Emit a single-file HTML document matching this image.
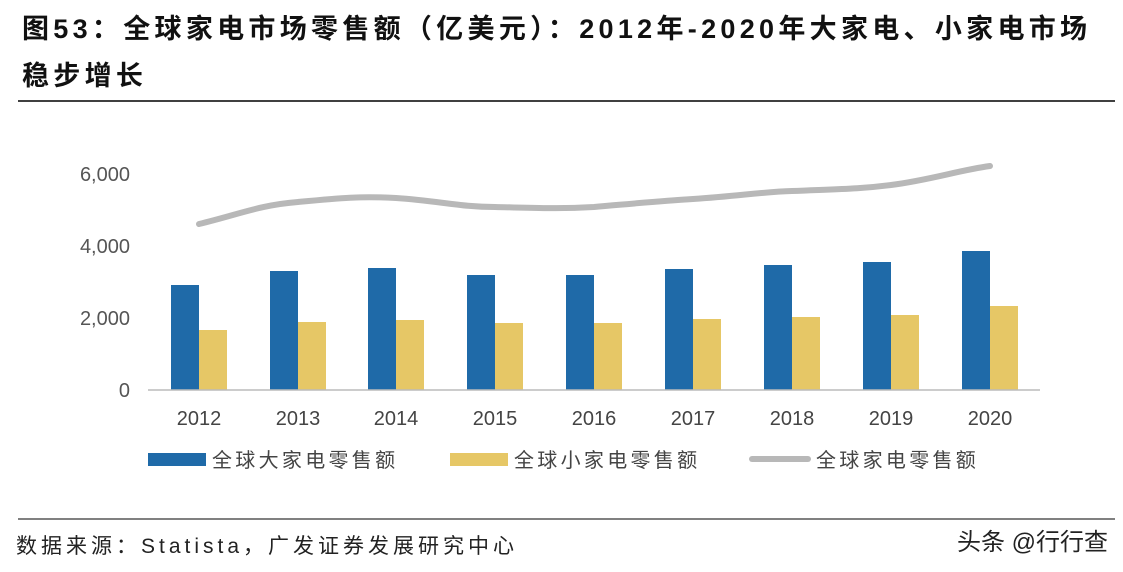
<!DOCTYPE html>
<html><head><meta charset="utf-8"><style>
body{margin:0;background:#fff;width:1123px;height:572px;overflow:hidden;font-family:"Liberation Sans","Noto Sans CJK SC",sans-serif;}
.t{position:absolute;left:22px;top:6px;font-size:27px;font-weight:bold;color:#111;line-height:47px;width:1100px;letter-spacing:4.3px;white-space:nowrap}
</style></head><body>
<div class="t">图53：全球家电市场零售额（亿美元）：2012年-2020年大家电、小家电市场<br>稳步增长</div>
<svg width="1123" height="572" style="position:absolute;left:0;top:0">
<line x1="18" y1="101" x2="1115" y2="101" stroke="#000" stroke-width="1.5"/>
<line x1="18" y1="519" x2="1115" y2="519" stroke="#000" stroke-width="1"/>
<g font-size="20" fill="#555" text-anchor="end">
<text x="130" y="397">0</text><text x="130" y="325">2,000</text><text x="130" y="253">4,000</text><text x="130" y="181">6,000</text>
</g>
<g fill="#1f6aa8">
<rect x="171" y="285" width="28" height="105"/><rect x="270" y="271" width="28" height="119"/><rect x="368" y="268" width="28" height="122"/><rect x="467" y="275" width="28" height="115"/><rect x="566" y="275" width="28" height="115"/><rect x="665" y="269" width="28" height="121"/><rect x="764" y="265" width="28" height="125"/><rect x="863" y="262" width="28" height="128"/><rect x="962" y="251" width="28" height="139"/>
</g>
<g fill="#e6c766">
<rect x="199" y="330" width="28" height="60"/><rect x="298" y="322" width="28" height="68"/><rect x="396" y="320" width="28" height="70"/><rect x="495" y="323" width="28" height="67"/><rect x="594" y="323" width="28" height="67"/><rect x="693" y="319" width="28" height="71"/><rect x="792" y="317" width="28" height="73"/><rect x="891" y="315" width="28" height="75"/><rect x="990" y="306" width="28" height="84"/>
</g>
<line x1="148" y1="390" x2="1040" y2="390" stroke="#bbb" stroke-width="1.5"/>
<path d="M199,224 C240,214 260,205 298,202 C340,198 360,196 396,198 C440,201 460,207 495,207 C540,208 560,209 594,207 C640,203 660,201 693,199 C740,196 760,192 792,191 C840,189 860,189 891,185 C930,180 960,170 990,166" fill="none" stroke="#b8b8b8" stroke-width="6" stroke-linecap="round"/>
<g font-size="20" fill="#444" text-anchor="middle">
<text x="199" y="425">2012</text><text x="298" y="425">2013</text><text x="396" y="425">2014</text><text x="495" y="425">2015</text><text x="594" y="425">2016</text><text x="693" y="425">2017</text><text x="792" y="425">2018</text><text x="891" y="425">2019</text><text x="990" y="425">2020</text>
</g>
<rect x="148" y="453" width="58" height="13" fill="#1f6aa8"/>
<rect x="450" y="453" width="58" height="13" fill="#e6c766"/>
<line x1="752" y1="459" x2="808" y2="459" stroke="#b8b8b8" stroke-width="6" stroke-linecap="round"/>
<g font-size="20" fill="#444" letter-spacing="3.3">
<text x="212" y="467">全球大家电零售额</text><text x="514" y="467">全球小家电零售额</text><text x="816" y="467">全球家电零售额</text>
</g>
<text x="16" y="553" font-size="21" fill="#222" letter-spacing="4">数据来源：Statista，广发证券发展研究中心</text>
<text x="1108" y="550" font-size="24" fill="#222" text-anchor="end">头条 @行行查</text>
</svg>
</body></html>
